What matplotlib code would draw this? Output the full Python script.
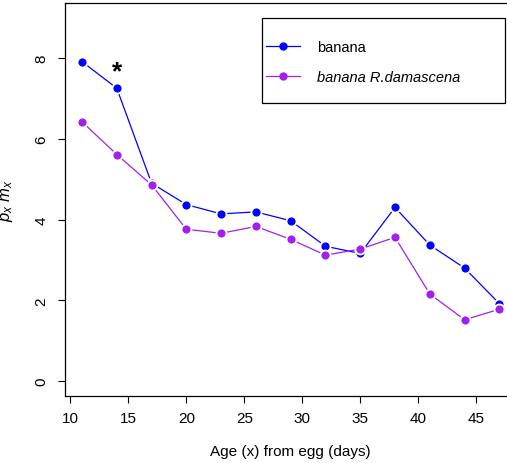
import matplotlib
matplotlib.use("Agg")
import matplotlib.pyplot as plt
from matplotlib.patches import Rectangle

# 年齢(日)と p_x m_x の値
age = [11, 14, 17, 20, 23, 26, 29, 32, 35, 38, 41, 44, 47]
banana = [7.91, 7.25, 4.90, 4.37, 4.14, 4.19, 3.97, 3.34, 3.16, 4.30, 3.37, 2.80, 1.92]
banana_rd = [6.42, 5.61, 4.86, 3.76, 3.66, 3.83, 3.51, 3.12, 3.27, 3.56, 2.16, 1.52, 1.78]

labels = ["banana", "banana R.damascena"]
xticks = [10, 15, 20, 25, 30, 35, 40, 45]
yticks = [0, 2, 4, 6, 8]

plt.rcParams["font.family"] = ["Liberation Sans", "DejaVu Sans"]
plt.rcParams["mathtext.fontset"] = "custom"
plt.rcParams["mathtext.it"] = "Liberation Sans:italic"
plt.rcParams["mathtext.rm"] = "Liberation Sans"

W, H = 507, 464
fig = plt.figure(figsize=(W / 100, H / 100), dpi=100)
ax = fig.add_axes([0.1288, 0.145, 1.0178 - 0.1288, 0.9914 - 0.145])

# R の type="b" 風に点のまわりを白抜き
ax.plot(age, banana, color="#0000FF", lw=0.9, marker="o", ms=7.2,
        mec="white", mew=1.3, label=labels[0])
ax.plot(age, banana_rd, color="#A020F0", lw=0.9, marker="o", ms=7.2,
        mec="white", mew=1.3, label=labels[1])

ax.text(14, 7.66, "*", fontsize=19, fontweight="bold", ha="center", va="center")

ax.set_xlim(9.56, 48.44)
ax.set_ylim(-0.36, 9.36)
ax.set_xticks(xticks)
ax.set_yticks(yticks)
ax.tick_params(direction="out", length=5, width=0.8, labelsize=11, pad=6)
ax.tick_params(axis="y", labelrotation=90, pad=7)
for t in ax.get_yticklabels():
    t.set_va("center")
for s in ax.spines.values():
    s.set_linewidth(0.9)

ax.set_xlabel("Age (x) from egg (days)", fontsize=11, labelpad=14)
ax.set_ylabel("$p_x\\ m_x$", fontsize=12, labelpad=14)

# 凡例：中身は枠なしで置いて，枠は別に四角を描く（R の legend の余白に合わせるため）
leg = ax.legend(loc="upper left",
                bbox_to_anchor=(266 / W, 1 - 41.5 / H),
                bbox_transform=fig.transFigure, borderaxespad=0, borderpad=0,
                fontsize=10.5, numpoints=1, handlelength=2.33,
                handletextpad=1.15, labelspacing=1.07, frameon=False)
leg.get_texts()[1].set_style("italic")
for h in leg.legend_handles:
    h.set_markeredgewidth(0)
    h.set_markersize(6)
fig.add_artist(Rectangle((261.7 / W, 1 - 104 / H), 243.3 / W, 85 / H,
                         transform=fig.transFigure, fill=False,
                         edgecolor="black", linewidth=0.9))

fig.savefig("out.png", dpi=100)
